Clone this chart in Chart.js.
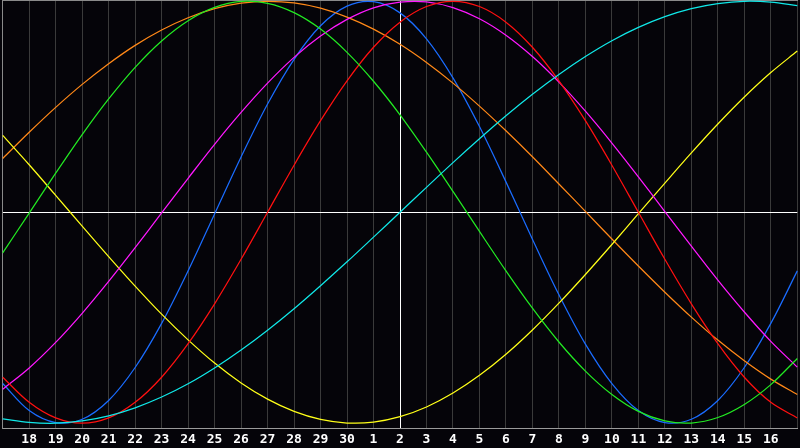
<!DOCTYPE html>
<html>
<head>
<meta charset="utf-8">
<script src="https://cdn.jsdelivr.net/npm/chart.js@4"></script>
<style>
  html, body { margin: 0; padding: 0; background: #050409; }
  canvas { display: block; }
</style>
</head>
<body>
<canvas id="bioChart" width="800" height="448"></canvas>
<script>
// day numbers along the bottom, one per grid line (first and last are not printed)
const dayLabels = ['17','18','19','20','21','22','23','24','25','26','27','28','29','30',
  '1','2','3','4','5','6','7','8','9','10','11','12','13','14','15','16','17'];
const todayIndex = 15;

// cycle values in percent
const physical = [-81.2,-94.0,-99.7,-98.1,-89.2,-73.6,-52.7,-27.8,-0.8,26.2,51.3,72.5,88.4,97.7,99.8,
  94.5,82.2,63.7,40.6,14.4,-12.8,-39.1,-62.5,-81.2,-94.0,-99.7,-98.1,-89.2,-73.6,-52.7,-27.8];
const emotional = [-78.2,-90.1,-97.5,-100,-97.5,-90.1,-78.2,-62.3,-43.4,-22.3,0,22.3,43.4,62.3,78.2,
  90.1,97.5,100,97.5,90.1,78.2,62.3,43.4,22.3,0,-22.3,-43.4,-62.3,-78.2,-90.1,-97.5];
const intellectual = [-19.3,-0.4,18.5,36.8,53.7,68.7,81.2,90.8,97.1,99.9,99.0,94.6,86.8,75.8,62.1,
  46.2,28.5,9.9,-9.1,-27.8,-45.5,-61.5,-75.3,-86.4,-94.4,-98.9,-99.9,-97.3,-91.1,-81.7,-69.3];
const intuitive = [-83.9,-73.8,-61.7,-47.9,-32.8,-16.8,-0.3,16.1,32.2,47.3,61.2,73.4,83.5,91.4,96.9,
  99.6,99.7,97.0,91.7,83.9,73.8,61.7,47.9,32.8,16.8,0.3,-16.1,-32.2,-47.3,-61.2,-73.4];
const aesthetic = [36.4,22.5,8.0,-6.6,-21.0,-35.0,-48.3,-60.5,-71.5,-80.9,-88.6,-94.4,-98.2,-99.9,-99.5,
  -96.9,-92.3,-85.7,-77.3,-67.3,-55.8,-43.1,-29.5,-15.3,-0.7,13.8,28.1,41.8,54.6,66.2,76.4];
const awareness = [25.5,37.9,49.7,60.6,70.4,79.1,86.4,92.2,96.5,99.1,100.0,99.2,96.7,92.5,86.8,
  79.6,71.0,61.2,50.3,38.6,26.3,13.4,0.4,-12.7,-25.5,-37.9,-49.7,-60.6,-70.4,-79.1,-86.4];
const spiritual = [-97.9,-99.6,-100.0,-98.9,-96.5,-92.7,-87.6,-81.3,-73.8,-65.3,-55.9,-45.7,-34.8,-23.5,-11.8,
  0,11.8,23.5,34.8,45.7,55.9,65.3,73.8,81.3,87.6,92.7,96.5,98.9,100.0,99.6,97.9];

function curve(data, color) {
  return {
    data: data,
    borderColor: color,
    borderWidth: 1.25,
    pointRadius: 0,
    fill: false,
    tension: 0.33
  };
}

const ctx = document.getElementById('bioChart').getContext('2d');
const chart = new Chart(ctx, {
  type: 'line',
  data: {
    labels: dayLabels,
    datasets: [
      curve(spiritual, '#10e8e8'),
      curve(intellectual, '#22ea22'),
      curve(emotional, '#ff1010'),
      curve(intuitive, '#ff18ff'),
      curve(aesthetic, '#ffff18'),
      curve(awareness, '#ff8818'),
      curve(physical, '#1a6cff')
    ]
  },
  options: {
    responsive: false,
    animation: false,
    events: [],
    layout: { padding: 0 },
    plugins: {
      legend: { display: false },
      tooltip: { enabled: false }
    },
    scales: {
      x: {
        type: 'category',
        offset: false,
        afterFit: (scale) => { scale.height = 19.3; },
        grid: {
          drawTicks: false,
          lineWidth: 1,
          color: (c) => c.index === todayIndex ? '#ffffff' : (c.index === 0 ? '#8a8a8a' : '#3a3a3a')
        },
        border: { color: '#9a9a9a', width: 1 },
        ticks: {
          color: '#ffffff',
          padding: 2.7,
          autoSkip: false,
          maxRotation: 0,
          font: { family: 'DejaVu Sans Mono', weight: 'bold', size: 13 },
          callback: (v, i) => (i === 0 || i === dayLabels.length - 1) ? '' : dayLabels[i]
        }
      },
      xTop: {
        type: 'category',
        position: 'top',
        grid: { display: false, drawTicks: false },
        ticks: { display: false },
        border: { color: '#8a8a8a', width: 1 }
      },
      y: {
        min: -102.6,
        max: 100.6,
        ticks: { display: false, stepSize: 50 },
        grid: {
          drawTicks: false,
          color: (c) => c.tick.value === 0 ? '#ffffff' : 'rgba(0,0,0,0)'
        },
        border: { color: '#8a8a8a', width: 1 }
      }
    }
  }
});
</script>
</body>
</html>
